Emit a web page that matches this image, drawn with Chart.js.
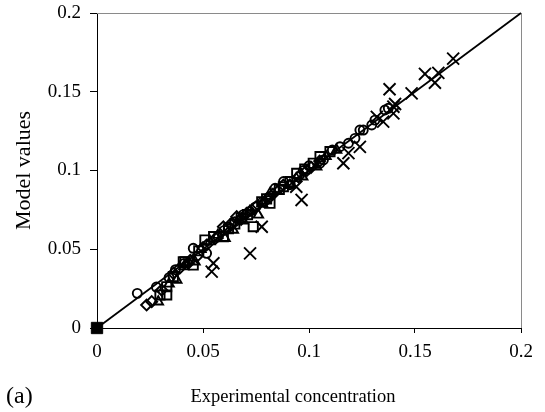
<!DOCTYPE html>
<html><head><meta charset="utf-8">
<script src="https://cdn.jsdelivr.net/npm/chart.js@4/dist/chart.umd.min.js"></script>
<style>html,body{margin:0;padding:0;background:#fff}#wrap{width:545px;height:412px;position:relative}</style>
</head><body><div id="wrap"><canvas id="c" width="545" height="412"></canvas></div>
<script>
const tickLabels = ['0', '0.05', '0.1', '0.15', '0.2'];
const tickValues = [0, 0.05, 0.1, 0.15, 0.2];
const xTitle = 'Experimental concentration';
const yTitle = 'Model values';
const panelLabel = '(a)';
const lineX = [0, 0.2];
const lineY = [0, 0.2];
const originPoint = [[0, 0]];
const circles = [[0.0190,0.022],[0.028,0.026],[0.034,0.032],[0.037,0.037],[0.041,0.041],[0.0454,0.0506],[0.0517,0.0474],[0.057,0.058],[0.060,0.062],[0.062,0.064],[0.065,0.0675],[0.069,0.072],[0.072,0.074],[0.075,0.077],[0.078,0.080],[0.081,0.083],[0.084,0.0887],[0.088,0.093],[0.091,0.091],[0.0973,0.100],[0.100,0.103],[0.1052,0.1046],[0.1068,0.1067],[0.111,0.113],[0.1146,0.1151],[0.1186,0.1173],[0.1217,0.1204],[0.124,0.1257],[0.1256,0.1257],[0.1296,0.1289],[0.1311,0.132],[0.1358,0.1384],[0.1374,0.1395]];
const squares = [[0.0297,0.021],[0.0329,0.021],[0.0329,0.0262],[0.036,0.0326],[0.0407,0.0421],[0.0415,0.0421],[0.0454,0.040],[0.048,0.049],[0.0509,0.0559],[0.055,0.058],[0.0596,0.058],[0.062,0.063],[0.065,0.066],[0.068,0.070],[0.071,0.072],[0.0737,0.0643],[0.0777,0.0802],[0.080,0.082],[0.0816,0.0792],[0.086,0.088],[0.0879,0.0897],[0.091,0.093],[0.0942,0.0982],[0.098,0.101],[0.102,0.1046],[0.1052,0.1088],[0.1099,0.112]];
const diamonds = [[0.0234,0.0146],[0.0258,0.0167],[0.0305,0.0241],[0.036,0.0347],[0.039,0.038],[0.0431,0.0411],[0.044,0.043],[0.047,0.0453],[0.050,0.051],[0.0517,0.0527],[0.056,0.057],[0.0596,0.0643],[0.063,0.066],[0.0659,0.0707],[0.068,0.069],[0.0706,0.0728],[0.073,0.075],[0.075,0.077],[0.079,0.080],[0.083,0.085],[0.0879,0.0908],[0.095,0.096],[0.099,0.100],[0.101,0.102],[0.105,0.106]];
const triangles = [[0.0289,0.0167],[0.034,0.028],[0.0376,0.0305],[0.041,0.039],[0.0462,0.0421],[0.049,0.050],[0.0533,0.0549],[0.057,0.059],[0.0604,0.057],[0.0643,0.0622],[0.067,0.069],[0.069,0.068],[0.072,0.074],[0.0761,0.0718],[0.078,0.079],[0.0816,0.0855],[0.085,0.087],[0.091,0.0908],[0.094,0.095],[0.097,0.096],[0.1036,0.1024],[0.108,0.109],[0.113,0.113]];
const crosses = [[0.0541,0.0358],[0.0549,0.0411],[0.0722,0.0474],[0.0777,0.0643],[0.094,0.0897],[0.0965,0.0813],[0.1162,0.1046],[0.1186,0.111],[0.124,0.115],[0.132,0.134],[0.135,0.131],[0.138,0.1516],[0.1398,0.1405],[0.1406,0.1422],[0.1398,0.1363],[0.1484,0.149],[0.1547,0.1613],[0.1594,0.1557],[0.161,0.162],[0.168,0.171]];

const pts = a => a.map(p => ({x: p[0], y: p[1]}));
const FONT = "'Liberation Serif', 'Times New Roman', serif";
const mk = (data, style, r) => ({type: 'scatter', data: pts(data), pointStyle: style, pointRadius: r, pointHoverRadius: r,
  borderColor: '#000', backgroundColor: 'rgba(0,0,0,0)', pointBorderWidth: 1.9, borderWidth: 1.9, clip: false});

const extras = {
  id: 'extras',
  beforeDatasetsDraw(chart) {
    const {ctx, chartArea: a} = chart;
    ctx.save();
    ctx.strokeStyle = '#8a8a8a'; ctx.lineWidth = 1;
    ctx.beginPath();
    ctx.moveTo(a.left, a.top + 0.5); ctx.lineTo(a.right + 0.5, a.top + 0.5); ctx.lineTo(a.right + 0.5, a.bottom);
    ctx.stroke();
    ctx.restore();
  },
  afterDraw(chart) {
    const {ctx} = chart;
    ctx.save();
    ctx.fillStyle = '#000';
    ctx.font = '18.5px ' + FONT;
    ctx.textBaseline = 'middle';
    ctx.textAlign = 'center';
    ctx.fillText(xTitle, 293, 397);
    ctx.textAlign = 'left';
    ctx.font = '24px ' + FONT;
    ctx.fillText(panelLabel, 6, 397);
    ctx.restore();
  }
};

new Chart(document.getElementById('c'), {
  data: {
    datasets: [
      {type: 'line', data: lineX.map((x, i) => ({x, y: lineY[i]})), borderColor: '#000', borderWidth: 1.8, pointRadius: 0, fill: false, clip: false},
      mk(circles, 'circle', 4.5),
      mk(squares, 'rect', 6.5),
      mk(diamonds, 'rectRot', 5.5),
      mk(triangles, 'triangle', 5.5),
      mk(crosses, 'crossRot', 8.5),
      {type: 'scatter', data: pts(originPoint), pointStyle: 'rect', pointRadius: 8, borderColor: '#000', backgroundColor: '#000', pointBorderWidth: 1, clip: false}
    ]
  },
  options: {
    responsive: false, animation: false, devicePixelRatio: 1,
    layout: {padding: {top: 13, right: 24, left: 0, bottom: 0}},
    plugins: {legend: {display: false}, tooltip: {enabled: false}},
    scales: {
      x: {
        type: 'linear', min: 0, max: 0.2,
        afterBuildTicks: s => { s.ticks = tickValues.map(v => ({value: v})); },
        afterFit: s => { s.height = 84; s.paddingLeft = 0; s.paddingRight = 0; },
        grid: {drawOnChartArea: false, drawTicks: true, tickLength: 5, color: '#000'},
        border: {display: true, color: '#000', width: 1},
        ticks: {callback: (v, i) => tickLabels[i], color: '#000', font: {family: FONT, size: 19}, padding: 8, maxRotation: 0},
        title: {display: false}
      },
      y: {
        type: 'linear', min: 0, max: 0.2,
        afterBuildTicks: s => { s.ticks = tickValues.map(v => ({value: v})); },
        afterFit: s => { s.width = 97; s.paddingTop = 0; s.paddingBottom = 0; },
        grid: {drawOnChartArea: false, drawTicks: true, tickLength: 7, color: '#000'},
        border: {display: true, color: '#000', width: 1},
        ticks: {callback: (v, i) => tickLabels[i], color: '#000', font: {family: FONT, size: 19}, padding: 9},
        title: {display: true, text: yTitle, color: '#000', font: {family: FONT, size: 22}, padding: {top: 11, bottom: 0}}
      }
    }
  },
  plugins: [extras]
});
</script></body></html>
